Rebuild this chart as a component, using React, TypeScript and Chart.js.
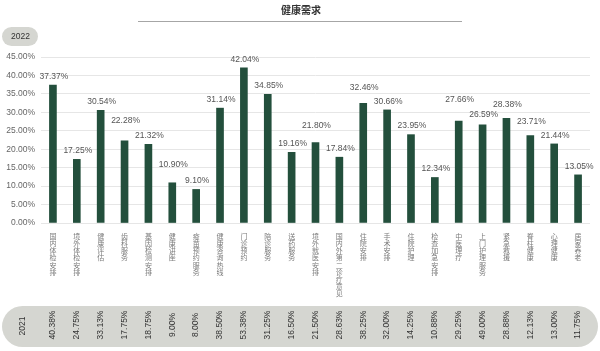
import React, { useEffect, useRef } from 'react';
import { Chart, registerables } from 'chart.js';

Chart.register(...registerables);

const chartTitle = '健康需求';
const currentYear = '2022';
const previousYear = '2021';

const categories = [
  '国内体检安排', '境外体检安排', '健康评估', '齿科服务', '基因检测安排', '健康讲座',
  '疫苗预约服务', '健康咨询热线', '门诊预约', '陪诊服务', '送药服务', '境外就医安排',
  '国内外第二诊疗意见', '住院安排', '手术安排', '住院护理', '检查加急安排', '中医理疗',
  '上门护理服务', '紧急救援', '脊柱健康', '心理健康', '居家养老',
];

const values2022 = [
  37.37, 17.25, 30.54, 22.28, 21.32, 10.9, 9.1, 31.14, 42.04, 34.85, 19.16, 21.8,
  17.84, 32.46, 30.66, 23.95, 12.34, 27.66, 26.59, 28.38, 23.71, 21.44, 13.05,
];

const values2021 = [
  40.38, 24.75, 33.13, 17.75, 18.75, 9.0, 8.0, 38.5, 53.38, 31.25, 16.5, 21.5,
  28.63, 38.25, 32.0, 14.25, 10.88, 29.25, 49.0, 28.88, 12.13, 13.0, 11.75,
];

const yMin = 0;
const yMax = 45;
const yStep = 5;

// extra vertical lift (px) for labels that would collide with neighbours
const labelLift = [0, 0, 0, 11.5, 0, 9.5, 0, 0, 0, 0, 0, 8.5, 0, 7.5, 0, 0, 0, 12.5, 1.5, 5.5, 5.5, 0, 0];

const FONT = '"Liberation Sans", Arial, "Noto Sans CJK SC", sans-serif';
const CJK = '"Noto Sans CJK SC", "Liberation Sans", sans-serif';
const BAR = '#234f3c';
const PILL = '#d5d6d1';

function roundRect(ctx: CanvasRenderingContext2D, x: number, y: number, w: number, h: number, r: number) {
  ctx.beginPath();
  ctx.moveTo(x + r, y);
  ctx.lineTo(x + w - r, y);
  ctx.arc(x + w - r, y + r, r, -Math.PI / 2, 0);
  ctx.lineTo(x + w, y + h - r);
  ctx.arc(x + w - r, y + h - r, r, 0, Math.PI / 2);
  ctx.lineTo(x + r, y + h);
  ctx.arc(x + r, y + h - r, r, Math.PI / 2, Math.PI);
  ctx.lineTo(x, y + r);
  ctx.arc(x + r, y + r, r, Math.PI, Math.PI * 1.5);
  ctx.closePath();
}

const decorPlugin = {
  id: 'decor',
  afterDraw(chart: any) {
    const ctx: CanvasRenderingContext2D = chart.ctx;
    const xs = chart.scales.x;
    const ys = chart.scales.y;
    ctx.save();

    // title
    ctx.fillStyle = '#333';
    ctx.font = `bold 10px ${CJK}`;
    ctx.textAlign = 'center';
    ctx.textBaseline = 'middle';
    ctx.fillText(chartTitle, 301, 10);

    // underline
    ctx.strokeStyle = '#a6a6a6';
    ctx.lineWidth = 1;
    ctx.beginPath();
    ctx.moveTo(138, 21.5);
    ctx.lineTo(462, 21.5);
    ctx.stroke();

    // 2022 pill
    ctx.fillStyle = PILL;
    roundRect(ctx, 2, 27, 36, 19, 9.5);
    ctx.fill();
    ctx.fillStyle = '#333';
    ctx.font = `8.5px ${FONT}`;
    ctx.fillText(currentYear, 20.5, 36.5);

    // data labels
    ctx.fillStyle = '#555';
    ctx.font = `8.5px ${FONT}`;
    ctx.textBaseline = 'middle';
    values2022.forEach((v, i) => {
      const x = xs.getPixelForValue(i);
      const y = ys.getPixelForValue(v) - 8.5 - (labelLift[i] || 0);
      ctx.fillText(v.toFixed(2) + '%', x + 1, y);
    });

    // vertical category labels (stacked characters)
    ctx.fillStyle = '#7a7a7a';
    ctx.font = `7px ${CJK}`;
    ctx.textAlign = 'center';
    ctx.textBaseline = 'middle';
    categories.forEach((c, i) => {
      const x = xs.getPixelForValue(i);
      c.split('').forEach((ch, k) => {
        ctx.fillText(ch, x, 236.5 + k * 7.1);
      });
    });

    // 2021 pill
    ctx.fillStyle = PILL;
    roundRect(ctx, 2, 306, 596, 41, 20.5);
    ctx.fill();
    ctx.fillStyle = '#333';
    ctx.font = `8.5px ${FONT}`;
    const drawRot = (text: string, x: number, y: number) => {
      ctx.save();
      ctx.translate(x, y);
      ctx.rotate(-Math.PI / 2);
      ctx.textAlign = 'center';
      ctx.textBaseline = 'middle';
      ctx.fillText(text, 0, 0);
      ctx.restore();
    };
    drawRot(previousYear, 23, 326);
    values2021.forEach((v, i) => {
      drawRot(v.toFixed(2) + '%', xs.getPixelForValue(i), 325);
    });

    ctx.restore();
  },
};

export default function App() {
  const ref = useRef<HTMLCanvasElement | null>(null);

  useEffect(() => {
    document.body.style.margin = '0';
    if (!ref.current) return;
    const chart = new Chart(ref.current, {
      type: 'bar',
      data: {
        labels: categories,
        datasets: [
          {
            label: currentYear,
            data: values2022,
            backgroundColor: BAR,
            barThickness: 7,
          },
        ],
      },
      options: {
        animation: false,
        responsive: true,
        maintainAspectRatio: false,
        layout: { padding: { top: 57, right: 10, bottom: 0, left: 0 } },
        plugins: {
          legend: { display: false },
          tooltip: { enabled: false },
          title: { display: false },
        },
        scales: {
          x: {
            grid: { display: false, drawTicks: false },
            border: { display: false },
            ticks: { display: false, autoSkip: false },
            afterFit: (s: any) => {
              s.height = 128;
            },
          },
          y: {
            min: yMin,
            max: yMax,
            grid: { color: '#e6e6e6', drawTicks: false, lineWidth: 1 },
            border: { display: false },
            ticks: {
              stepSize: yStep,
              padding: 6,
              color: '#666',
              font: { family: FONT, size: 8.5 },
              callback: (v: any) => Number(v).toFixed(2) + '%',
            },
            afterFit: (s: any) => {
              s.width = 41;
            },
          },
        },
      },
      plugins: [decorPlugin],
    });
    return () => chart.destroy();
  }, []);

  return (
    <div style={{ width: 600, height: 351, position: 'relative' }}>
      <canvas ref={ref} />
    </div>
  );
}
